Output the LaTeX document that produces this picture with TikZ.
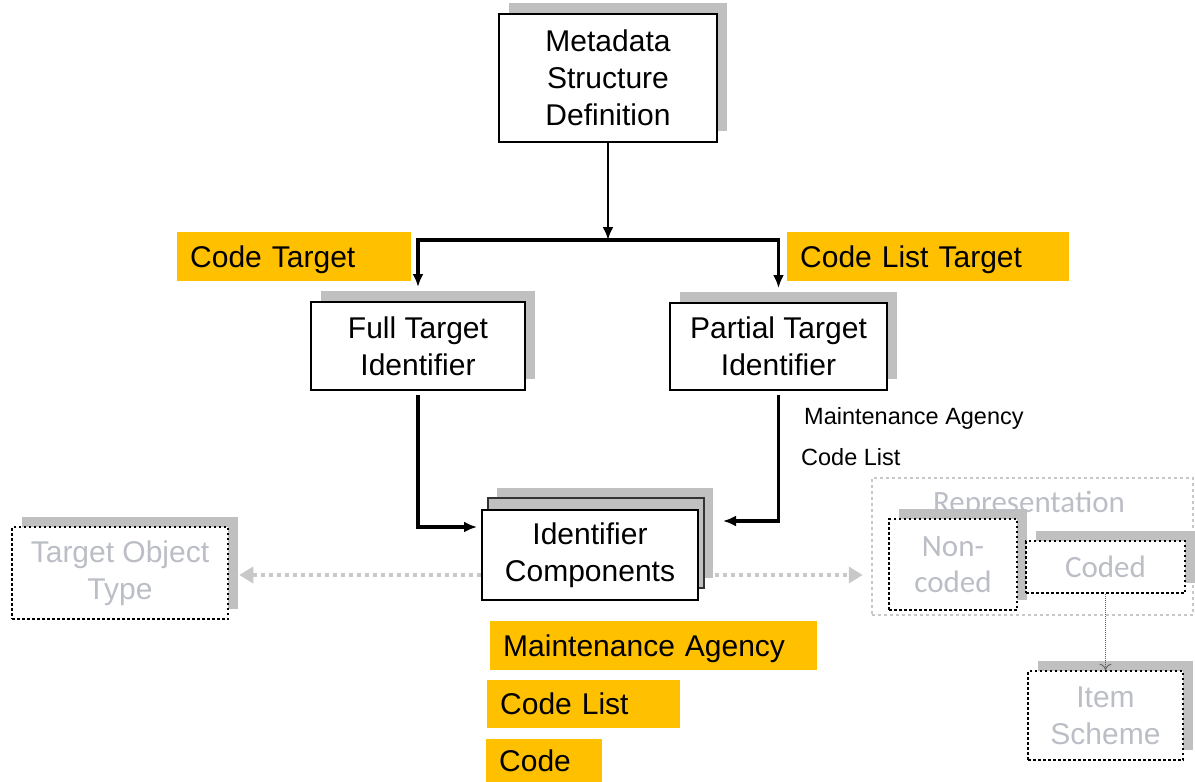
\documentclass[tikz,border=0pt]{standalone}
\usepackage{fontspec}
\setmainfont{Liberation Sans}
\newfontfamily\calibrifont{Carlito}
\usetikzlibrary{arrows.meta,shadows,backgrounds}

\definecolor{amber}{RGB}{255,192,0}
\definecolor{shade}{RGB}{192,192,192}
\definecolor{faint}{RGB}{188,190,198}
\definecolor{linkgray}{RGB}{200,200,200}

\tikzset{
  txt/.style={font=\fontsize{30}{37}\selectfont, align=center, inner sep=0pt},
  solidbox/.style={txt, draw=black, line width=2pt, fill=white,
    general shadow={fill=shade, shadow xshift=10pt, shadow yshift=11pt}},
  stacked/.style={txt, draw=black, line width=2pt, fill=white,
    general shadow={fill=shade, shadow xshift=15pt, shadow yshift=22pt},
    general shadow={fill=shade, draw=black!80, line width=1.5pt, shadow xshift=6pt, shadow yshift=12pt}},
  dotbox/.style={txt, draw=black, line width=2.5pt, dash pattern=on 2.5pt off 2.5pt,
    fill=white, text=faint,
    general shadow={fill=shade, shadow xshift=10pt, shadow yshift=10pt}},
  tag/.style={fill=amber, anchor=west, inner xsep=13pt, inner ysep=0pt,
    minimum height=49pt, text width=#1, text depth=0pt, align=left,
    font=\fontsize{30}{37}\selectfont},
  note/.style={anchor=west, inner sep=0pt, font=\fontsize{23.5}{27}\selectfont},
  calib/.style={font=\calibrifont\fontsize{31}{36}\selectfont},
  flow/.style={line width=3.5pt, line join=miter, -{Latex[length=13pt,width=11pt]}},
  ghost/.style={draw=linkgray, line width=4pt, dash pattern=on 4pt off 4pt,
    -{Triangle[length=14pt,width=16pt]}},
  thinlink/.style={draw=black!65, line width=0.8pt, dash pattern=on 1pt off 1pt,
    -{To[length=6pt,width=12pt]}}
}

\begin{document}
\begin{tikzpicture}[x=1pt,y=-1pt]
\useasboundingbox (0,0) rectangle (1195,782);

% main structure boxes
\node[solidbox, minimum width=218pt, minimum height=128pt] (msd) at (608,78)
  {Metadata\\Structure\\Definition};
\node[solidbox, minimum width=214pt, minimum height=88pt] (fti) at (418,346)
  {Full Target\\Identifier};
\node[solidbox, minimum width=217pt, minimum height=87pt] (pti) at (778.5,346.5)
  {Partial Target\\Identifier};
\node[stacked, minimum width=216pt, minimum height=90pt] (idc) at (590,555)
  {Identifier\\Components};

% highlighted labels
\node[tag=208pt] (ct) at (177,256.5) {Code Target};
\node[tag=256pt] (clt) at (787,256.5) {Code List Target};
\node[tag=301pt] (ma) at (490,645.5) {Maintenance Agency};
\node[tag=167pt, minimum height=48pt] (cl) at (487,704) {Code List};
\node[tag=90pt, minimum height=43pt] (code) at (486,760.5) {Code};

% small notes beside the partial target link
\node[note] (mal) at (804,418) {Maintenance Agency};
\node[note] (cll) at (801,457) {Code List};

% faded related classes
\node[dotbox, minimum width=216pt, minimum height=92pt] (tot) at (120,573)
  {Target Object\\Type};
\node[draw=linkgray, line width=2.5pt, dash pattern=on 3pt off 3pt,
  minimum width=321pt, minimum height=137pt, inner sep=0pt] (rep) at (1032.5,546.5) {};
\node[dotbox, calib, minimum width=128pt, minimum height=91pt] (nonc) at (953,564.5)
  {Non-\\coded};
\node[dotbox, calib, minimum width=159pt, minimum height=52pt] (coded) at (1105.5,567)
  {Coded};
\node[inner sep=0pt, text=faint, calib] (repl) at (1029,504) {Representation};
\node[dotbox, minimum width=155pt, minimum height=89pt] (item) at (1105.5,715.5)
  {Item\\Scheme};

% connectors
\coordinate (split) at (608,240);
\draw[flow, line width=2.5pt] (msd.south) -- (split);
\draw[flow, shorten >=14pt] (split) -| (fti.north);
\draw[flow, shorten >=14pt] (split) -| (pti.north);
\draw[flow, shorten <=4pt, shorten >=4pt] (fti.south) |- (idc.west |- 0,527);
\draw[flow, shorten <=4pt, shorten >=24pt] (pti.south) |- (idc.east |- 0,521);
\draw[thinlink] (coded.south) -- (item.north);

\begin{scope}[on background layer]
  \draw[ghost, shorten >=10pt] (idc.west |- 0,575) -- (tot.east |- 0,575);
  \draw[ghost, shorten >=8pt] (idc.east |- 0,575) -- (rep.west |- 0,575);
\end{scope}
\end{tikzpicture}
\end{document}
